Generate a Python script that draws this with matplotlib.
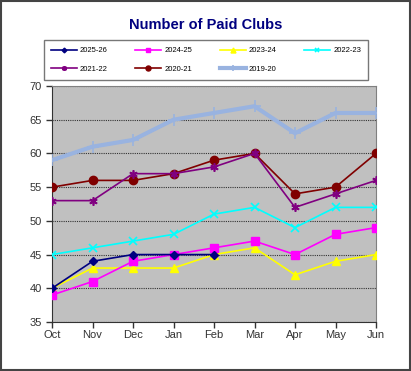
import matplotlib.pyplot as plt
from matplotlib.patches import Rectangle

plt.rcParams['font.family'] = ['Liberation Sans', 'DejaVu Sans']

months = ['Oct', 'Nov', 'Dec', 'Jan', 'Feb', 'Mar', 'Apr', 'May', 'Jun']
s2025 = [40, 44, 45, 45, 45]
s2024 = [39, 41, 44, 45, 46, 47, 45, 48, 49]
s2023 = [40, 43, 43, 43, 45, 46, 42, 44, 45]
s2022 = [45, 46, 47, 48, 51, 52, 49, 52, 52]
s2021 = [53, 53, 57, 57, 58, 60, 52, 54, 56]
s2020 = [55, 56, 56, 57, 59, 60, 54, 55, 60]
s2019 = [59, 61, 62, 65, 66, 67, 63, 66, 66]

fig = plt.figure(figsize=(4.11, 3.71), dpi=100)
ax = fig.add_axes([52 / 411, 1 - 322 / 371, 324 / 411, 236 / 371])
ax.set_facecolor('#C0C0C0')

x = range(len(months))
h25, = ax.plot(x[:len(s2025)], s2025, color='#000080', marker='D', markersize=4, lw=1.2, label='2025-26', zorder=9)
h24, = ax.plot(x, s2024, color='#FF00FF', marker='s', markersize=6, lw=1.2, label='2024-25', zorder=8)
h23, = ax.plot(x, s2023, color='#FFFF00', marker='^', markersize=6, lw=1.2, label='2023-24', zorder=7)
h22, = ax.plot(x, s2022, color='#00FFFF', marker='x', markersize=6, mew=1.2, lw=1.2, label='2022-23', zorder=6)
h21, = ax.plot(x, s2021, color='#800080', marker=(6, 2, 0), markersize=6, mew=1.2, lw=1.2, label='2021-22', zorder=5)
h20, = ax.plot(x, s2020, color='#800000', marker='o', markersize=6, lw=1.2, label='2020-21', zorder=4)
h19, = ax.plot(x, s2019, color='#99B3E0', marker='+', markersize=8, mew=1.2, lw=3, label='2019-20', zorder=3)

ax.set_xlim(0, 8)
ax.set_ylim(35, 70)
ax.set_yticks(range(35, 71, 5))
ax.set_xticks(list(x))
ax.set_xticklabels(months)
ax.tick_params(axis='both', labelsize=8, direction='out', length=4, width=1, colors='#333333')
ax.tick_params(axis='x', pad=2)
ax.yaxis.grid(True, color='#333333', linestyle=(0, (1, 1)), lw=0.8)
for sp in ['top', 'right']:
    ax.spines[sp].set_color('#808080')
for sp in ['left', 'bottom']:
    ax.spines[sp].set_color('#333333')

fig.text(0.5, 1 - 25 / 371, 'Number of Paid Clubs', ha='center', va='center',
         fontsize=10.5, fontweight='bold', color='#000080')

# row-wise legend order
order = [h25, h21, h24, h20, h23, h19, h22]
leg = fig.legend(order, [h.get_label() for h in order], loc='center',
                 bbox_to_anchor=(206 / 411, 1 - 60 / 371), ncol=4,
                 fontsize=5.5, frameon=True, fancybox=False, edgecolor='#555555',
                 handlelength=3.4, handletextpad=0.4, markerscale=0.6,
                 columnspacing=3.6, borderpad=0.9, labelspacing=1.5)
leg.get_frame().set_linewidth(1)

fig.patches.append(Rectangle((0.002, 0.003), 0.995, 0.994, transform=fig.transFigure,
                             fill=False, edgecolor='#444444', lw=1.5))

fig.savefig('out.png', dpi=100)
